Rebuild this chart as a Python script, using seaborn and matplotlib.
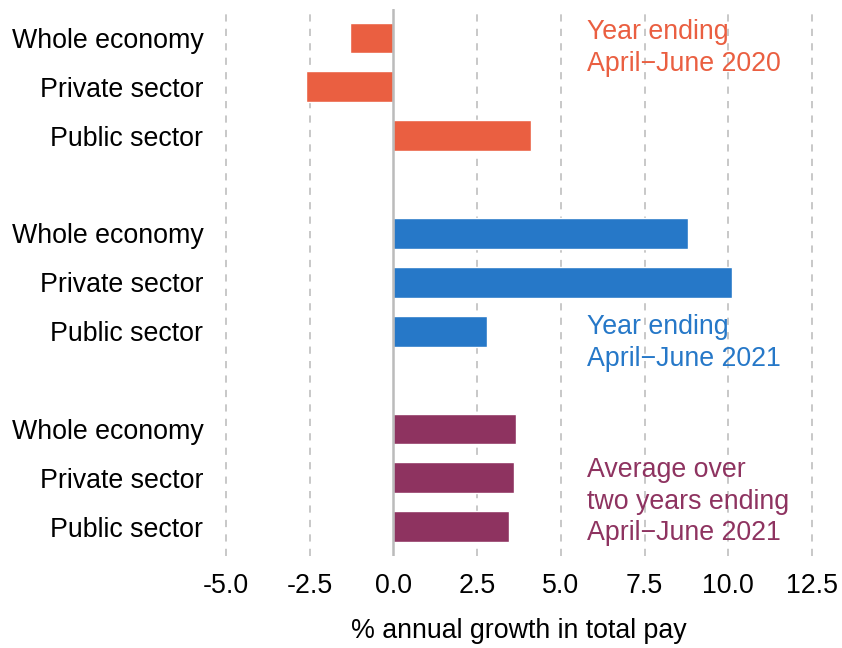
"""Annual growth in total pay by sector, three periods."""

import matplotlib.pyplot as plt
import pandas as pd
import seaborn as sns

# data
sectors = ["Whole economy", "Private sector", "Public sector"]
growth_2020 = [-1.3, -2.6, 4.1]
growth_2021 = [8.8, 10.1, 2.8]
growth_avg = [3.65, 3.6, 3.45]
periods = ["2020", "2021", "avg"]
period_notes = [
    "Year ending\nApril\u2212June 2020",
    "Year ending\nApril\u2212June 2021",
    "Average over\ntwo years ending\nApril\u2212June 2021",
]
period_colors = ["#EA5F41", "#2678C8", "#8E3360"]
x_ticks = [-5.0, -2.5, 0.0, 2.5, 5.0, 7.5, 10.0, 12.5]

sns.set_theme(style="white")
plt.rcParams["font.family"] = ["Liberation Sans", "DejaVu Sans"]
plt.rcParams["text.color"] = "black"
plt.rcParams["axes.labelcolor"] = "black"

rows = []
for g, (period, values) in enumerate(zip(periods, [growth_2020, growth_2021, growth_avg])):
    for i, (sector, v) in enumerate(zip(sectors, values)):
        rows.append({"period": period, "sector": sector, "growth": v, "pos": g * 4 + i})
df = pd.DataFrame(rows)

fig = plt.figure(figsize=(8.42, 6.48), dpi=100)
ax = fig.add_axes([0.2565, 0.142, 0.7197, 0.8446])

sns.barplot(
    data=df, x="growth", y="pos", hue="period", palette=period_colors,
    orient="h", native_scale=True, dodge=False, width=0.63, saturation=1,
    legend=False, ax=ax,
)

ax.set_xlim(-5.3, 12.8)
ax.set_ylim(10.6, -0.6)
ax.set_xticks(x_ticks)
ax.set_xticklabels([f"{t:.1f}" for t in x_ticks], fontsize=19.3)
ax.set_yticks(df["pos"])
ax.set_yticklabels(df["sector"], fontsize=19.3)
ax.tick_params(axis="x", length=0, pad=12, colors="black")
ax.tick_params(axis="y", length=0, pad=9, colors="black")
ax.set_xlabel("% annual growth in total pay", fontsize=19.3, labelpad=14)
ax.set_ylabel("")

for t in x_ticks:
    if t != 0:
        ax.axvline(t, color="#C4C4C4", lw=1.3, ls=(0, (4, 4)), zorder=0)
ax.axvline(0, color="#BBBBBB", lw=1.8, zorder=3)

for side in ["top", "right", "bottom", "left"]:
    ax.spines[side].set_visible(False)

note_y = [0.2, 6.24, 9.49]
for note, y, color in zip(period_notes, note_y, period_colors):
    ax.text(5.77, y, note, color=color, fontsize=19.3, va="center", ha="left", linespacing=1.28)

fig.savefig("out.png", dpi=100)
